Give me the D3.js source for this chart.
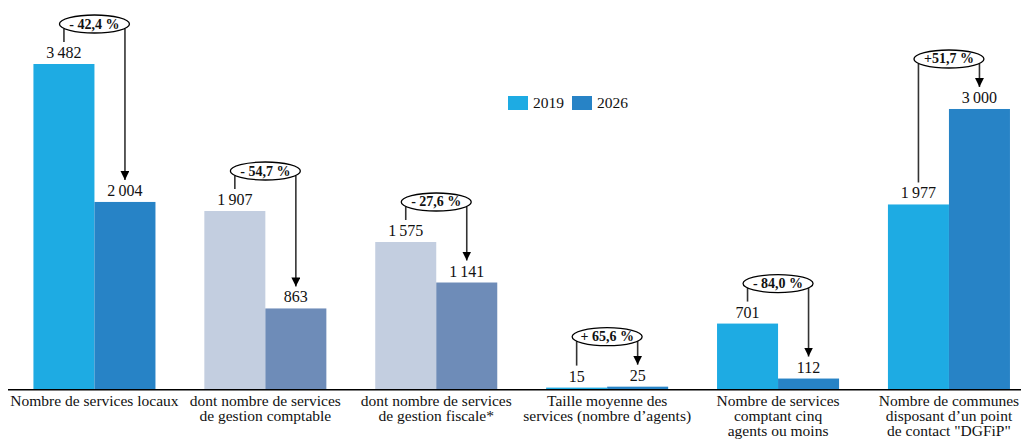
<!DOCTYPE html>
<html>
<head>
<meta charset="utf-8">
<script src="https://cdn.jsdelivr.net/npm/d3@7"></script>
<style>
  html, body { margin: 0; padding: 0; background: #fff; }
  svg { display: block; font-family: "Liberation Serif", "DejaVu Serif", serif; }
</style>
</head>
<body>
<svg id="chart" width="1021" height="439"></svg>
<script>
// Categories (x labels, one entry per line)
const categories = [
  ["Nombre de services locaux"],
  ["dont nombre de services", "de gestion comptable"],
  ["dont nombre de services", "de gestion fiscale*"],
  ["Taille moyenne des", "services (nombre d\u2019agents)"],
  ["Nombre de services", "comptant cinq", "agents ou moins"],
  ["Nombre de communes", "disposant d\u2019un point", "de contact \"DGFiP\""]
];
const years = ["2019", "2026"];
const values2019 = [3482, 1907, 1575, 15, 701, 1977];
const values2026 = [2004, 863, 1141, 25, 112, 3000];
const changeLabels = ["- 42,4 %", "- 54,7 %", "- 27,6 %", "+ 65,6 %", "- 84,0 %", "+51,7 %"];
// Sub-totals of the first category are drawn in a muted palette
const subTotals = [false, true, true, false, false, false];

const palette = { "2019": "#1eabe3", "2026": "#2783c6" };
const mutedPalette = { "2019": "#c3cee0", "2026": "#6e8cb8" };

const svg = d3.select("#chart");
const baseY = 389;

const keys = categories.map((c, i) => i);
const x = d3.scaleBand().domain(keys).range([9, 1034.4]).paddingInner(0.286).paddingOuter(0.143);
const xs = d3.scaleBand().domain(years).range([0, x.bandwidth()]);
const y = d3.scaleLinear().domain([0, 3482]).range([baseY, 64]);

const fr = d3.formatLocale({ decimal: ",", thousands: "\u2009", grouping: [3], currency: ["", " €"] });
const fmt = fr.format(",d");

const rows = keys.map(i => ({
  i,
  vals: [{ year: "2019", v: values2019[i] }, { year: "2026", v: values2026[i] }],
  change: changeLabels[i],
  muted: subTotals[i]
}));

// Arrowhead
svg.append("defs").append("marker")
  .attr("id", "arrow").attr("viewBox", "0 0 10 10")
  .attr("refX", 10).attr("refY", 5)
  .attr("markerWidth", 9).attr("markerHeight", 9)
  .attr("markerUnits", "userSpaceOnUse")
  .attr("orient", "auto")
  .append("path").attr("d", "M0,0 L10,5 L0,10 Z").attr("fill", "#000");

const g = svg.selectAll("g.group").data(rows).join("g")
  .attr("class", "group")
  .attr("transform", d => `translate(${x(d.i)},0)`);

// Bars
g.selectAll("rect").data(d => d.vals.map(v => ({ ...v, muted: d.muted }))).join("rect")
  .attr("x", d => xs(d.year))
  .attr("y", d => y(d.v))
  .attr("width", xs.bandwidth())
  .attr("height", d => baseY - y(d.v))
  .attr("fill", d => (d.muted ? mutedPalette : palette)[d.year]);

// Value labels
g.selectAll("text.val").data(d => d.vals).join("text")
  .attr("class", "val")
  .attr("x", d => xs(d.year) + xs.bandwidth() / 2)
  .attr("y", d => y(d.v) - 6)
  .attr("text-anchor", "middle")
  .attr("font-size", 16)
  .attr("fill", "#111")
  .text(d => fmt(d.v));

// Change annotation: ellipse, connector and arrow
const rx = 35, ry = 9;
g.each(function (d) {
  const sel = d3.select(this);
  const v0 = d.vals[0].v, v1 = d.vals[1].v;
  const cx = x.bandwidth() / 2;
  const cy = y(Math.max(v0, v1)) - (v1 > v0 ? 50 : 40);
  const x0 = xs("2019") + xs.bandwidth() / 2;
  const x1 = xs("2026") + xs.bandwidth() / 2;
  const edge = xx => cy + ry * Math.sqrt(Math.max(0, 1 - Math.pow((xx - cx) / rx, 2)));

  sel.append("line")
    .attr("x1", x0).attr("x2", x0)
    .attr("y1", edge(x0)).attr("y2", y(v0) - 22)
    .attr("stroke", "#333").attr("stroke-width", 1.6);
  sel.append("line")
    .attr("x1", x1).attr("x2", x1)
    .attr("y1", edge(x1)).attr("y2", y(v1) - 22)
    .attr("stroke", "#333").attr("stroke-width", 1.6)
    .attr("marker-end", "url(#arrow)");
  sel.append("ellipse")
    .attr("cx", cx).attr("cy", cy).attr("rx", rx).attr("ry", ry)
    .attr("fill", "#fff").attr("stroke", "#000").attr("stroke-width", 1.3);
  sel.append("text")
    .attr("x", cx).attr("y", cy + 4.5)
    .attr("text-anchor", "middle")
    .attr("font-size", 14).attr("font-weight", "bold")
    .attr("fill", "#111")
    .text(d.change);
});

// Baseline
svg.append("line")
  .attr("x1", 8).attr("x2", 1021)
  .attr("y1", baseY + 0.75).attr("y2", baseY + 0.75)
  .attr("stroke", "#000").attr("stroke-width", 1.5);

// Category labels
const lab = svg.selectAll("text.cat").data(rows).join("text")
  .attr("class", "cat")
  .attr("text-anchor", "middle")
  .attr("font-size", 15.5)
  .attr("fill", "#111");
lab.selectAll("tspan").data(d => categories[d.i].map(t => ({ t, cx: x(d.i) + x.bandwidth() / 2 }))).join("tspan")
  .attr("x", d => d.cx)
  .attr("y", (d, k) => 406 + k * 15)
  .text(d => d.t);

// Legend
const legend = svg.append("g").attr("transform", "translate(508,96)");
const li = legend.selectAll("g").data(years).join("g")
  .attr("transform", (d, k) => `translate(${k * 64},0)`);
li.append("rect").attr("width", 20).attr("height", 14).attr("fill", d => palette[d]);
li.append("text").attr("x", 25).attr("y", 12).attr("font-size", 15.5).attr("fill", "#111").text(d => d);
</script>
</body>
</html>
